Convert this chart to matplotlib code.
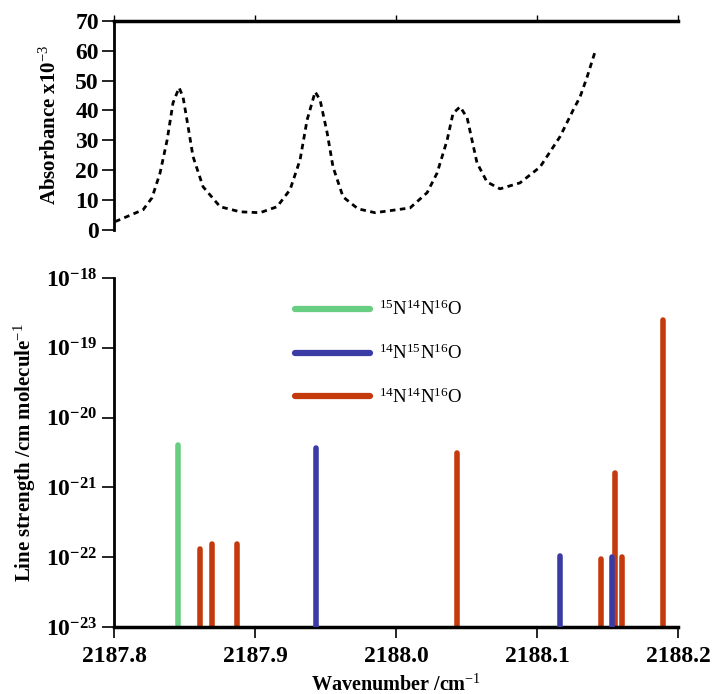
import numpy as np
import matplotlib
matplotlib.use('Agg')
import matplotlib.pyplot as plt
from matplotlib.ticker import FixedLocator, FuncFormatter, NullLocator

plt.rcParams.update({
    'font.family': 'serif',
    'font.serif': ['Liberation Serif', 'DejaVu Serif'],
    'mathtext.fontset': 'custom',
    'mathtext.rm': 'Liberation Serif',
    'mathtext.it': 'Liberation Serif:italic',
    'mathtext.bf': 'Liberation Serif:bold',
    'axes.unicode_minus': False,
})

# absorbance spectrum (top panel)
wn_abs = [2187.8007, 2187.8206, 2187.8269, 2187.8326, 2187.8376, 2187.8418,
          2187.8461, 2187.8489, 2187.8525, 2187.8560, 2187.8631, 2187.8752,
          2187.8894, 2187.9035, 2187.9156, 2187.9248, 2187.9319, 2187.9369,
          2187.9426, 2187.9461, 2187.9511, 2187.9553, 2187.9624, 2187.9730,
          2187.9851, 2188.0099, 2188.0220, 2188.0291, 2188.0362, 2188.0404,
          2188.0454, 2188.0504, 2188.0574, 2188.0645, 2188.0737, 2188.0879,
          2188.1021, 2188.1163, 2188.1255, 2188.1305, 2188.1355, 2188.1411]
absorb = [2.7, 6.7, 10.7, 19.0, 30.0, 42.5,
          47.6, 44.5, 34.5, 24.5, 14.4, 7.7,
          6.0, 5.7, 7.7, 13.4, 23.4, 36.8,
          46.2, 43.5, 32.5, 21.0, 11.0, 7.0,
          5.7, 7.3, 12.4, 19.0, 30.0, 39.0,
          41.2, 37.5, 22.4, 16.0, 13.7, 15.7,
          21.0, 31.2, 40.0, 44.5, 51.2, 59.6]

# line strengths (bottom panel)
wn_15n14n = [2187.845]
s_15n14n = [4.1e-21]
wn_14n15n = [2187.943, 2188.116, 2188.153]
s_14n15n = [3.7e-21, 1.04e-22, 1.0e-22]
wn_14n14n = [2187.861, 2187.8695, 2187.887, 2188.043, 2188.145, 2188.155, 2188.160, 2188.189]
s_14n14n = [1.31e-22, 1.55e-22, 1.55e-22, 3.1e-21, 9.4e-23, 1.6e-21, 1.0e-22, 2.5e-19]

c_green = '#68CE82'
c_blue = '#3B3BA6'
c_red = '#C53A0C'

fig = plt.figure(figsize=(7.13, 6.94), dpi=100)
ax1 = fig.add_axes([0.160, 0.669, 0.791, 0.301])
ax2 = fig.add_axes([0.160, 0.0965, 0.791, 0.503])

""" TOP PANEL """
ax1.plot(wn_abs, absorb, color='black', linewidth=2.0, linestyle=(0, (2.0, 1.6)))
ax1.set_xlim(2187.8, 2188.2)
ax1.set_ylim(0, 70)
ax1.spines['bottom'].set_visible(False)
ax1.spines['right'].set_visible(False)
ax1.spines['left'].set_linewidth(2.0)
ax1.spines['top'].set_linewidth(2.5)
ax1.xaxis.tick_top()
ax1.set_xticks(np.arange(2187.8, 2188.21, 0.1))
ax1.tick_params(axis='x', direction='out', length=4, width=1, labeltop=False)
ax1.set_yticks(np.arange(0, 71, 10))
ax1.tick_params(axis='y', direction='out', length=9, width=1.2, pad=2)
for label in ax1.get_yticklabels():
    label.set_fontsize(17)
    label.set_fontweight('bold')
ax1.set_ylabel(r'Absorbance x10$^{-3}$', fontsize=15, fontweight='bold')
ax1.yaxis.set_label_coords(-0.095, 0.5)

""" BOTTOM PANEL """
lw = 4.0
ax2.vlines(wn_15n14n, 1e-23, s_15n14n, color=c_green, linewidth=lw, capstyle='round', zorder=2)
ax2.vlines(wn_14n14n, 1e-23, s_14n14n, color=c_red, linewidth=lw, capstyle='round', zorder=2)
ax2.vlines(wn_14n15n, 1e-23, s_14n15n, color=c_blue, linewidth=lw, capstyle='round', zorder=3)

ax2.plot([], [], color=c_green, linewidth=4.5, solid_capstyle='round', label=r'$^{15}$N$^{14}$N$^{16}$O')
ax2.plot([], [], color=c_blue, linewidth=4.5, solid_capstyle='round', label=r'$^{14}$N$^{15}$N$^{16}$O')
ax2.plot([], [], color=c_red, linewidth=4.5, solid_capstyle='round', label=r'$^{14}$N$^{14}$N$^{16}$O')
ax2.legend(loc='upper left', bbox_to_anchor=(0.29, 0.985), frameon=False, fontsize=13.5,
           handlelength=4.0, handletextpad=0.5, labelspacing=1.3)

ax2.set_yscale('log')
ax2.set_xlim(2187.8, 2188.2)
ax2.set_ylim(1e-23, 1e-18)
ax2.spines['top'].set_visible(False)
ax2.spines['right'].set_visible(False)
ax2.spines['left'].set_linewidth(2.0)
ax2.spines['bottom'].set_linewidth(2.5)
ax2.yaxis.set_major_locator(FixedLocator([1e-23, 1e-22, 1e-21, 1e-20, 1e-19, 1e-18]))
ax2.yaxis.set_minor_locator(NullLocator())
ax2.yaxis.set_major_formatter(FuncFormatter(
    lambda v, p: r'$\mathbf{10^{%d}}$' % int(round(np.log10(v)))))
ax2.set_xticks(np.arange(2187.8, 2188.21, 0.1))
ax2.xaxis.set_major_formatter(FuncFormatter(lambda v, p: '%.1f' % v))
ax2.tick_params(axis='y', direction='out', length=9, width=1.2, pad=3, labelsize=17)
ax2.tick_params(axis='x', direction='out', length=8, width=1.2, pad=6)
for label in ax2.get_xticklabels():
    label.set_fontsize(17)
    label.set_fontweight('bold')
ax2.set_ylabel(r'Line strength /cm molecule$^{-1}$', fontsize=15, fontweight='bold')
ax2.yaxis.set_label_coords(-0.135, 0.5)
ax2.set_xlabel(r'Wavenumber /cm$^{-1}$', fontsize=14.5, fontweight='bold')
ax2.xaxis.set_label_coords(0.5, -0.135)

fig.savefig('out.png', dpi=100)
